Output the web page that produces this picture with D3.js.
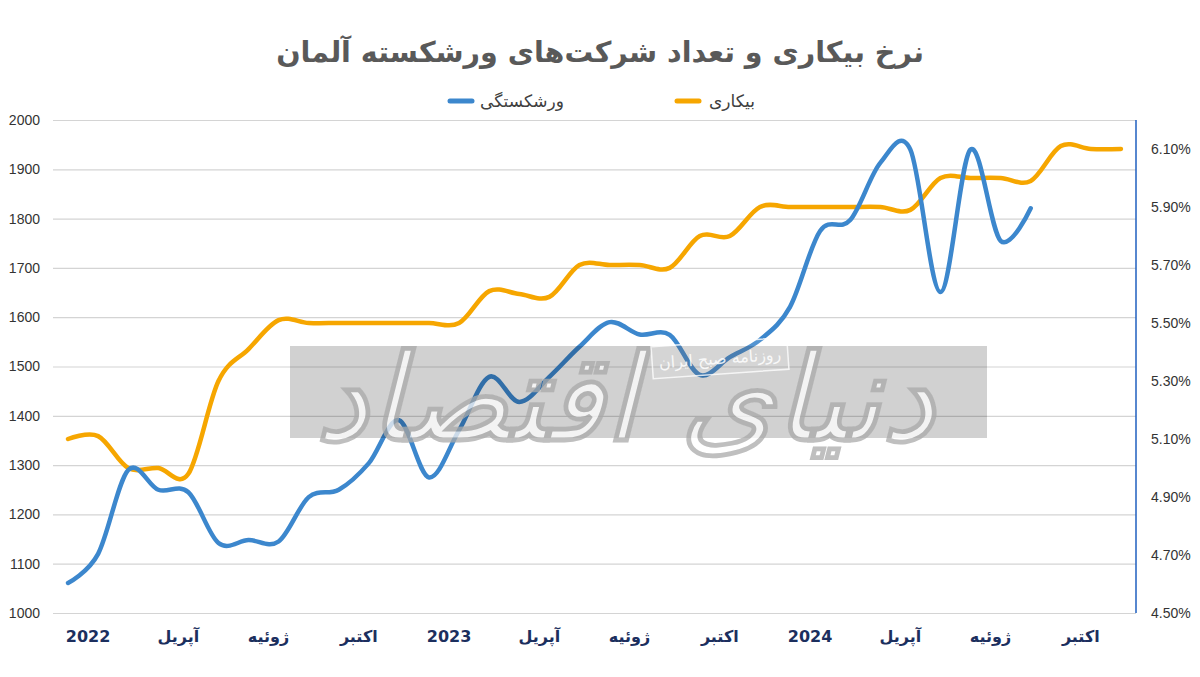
<!DOCTYPE html>
<html><head><meta charset="utf-8">
<script src="https://cdn.jsdelivr.net/npm/d3@7"></script>
<style>body{margin:0;background:#fff}</style>
</head><body>
<svg id="chart" width="1200" height="677"></svg>
<script>
const months = ["2022-01","2022-02","2022-03","2022-04","2022-05","2022-06","2022-07","2022-08","2022-09","2022-10","2022-11","2022-12",
"2023-01","2023-02","2023-03","2023-04","2023-05","2023-06","2023-07","2023-08","2023-09","2023-10","2023-11","2023-12",
"2024-01","2024-02","2024-03","2024-04","2024-05","2024-06","2024-07","2024-08","2024-09","2024-10","2024-11","2024-12"];
const tickMonths = ["2022-01","2022-04","2022-07","2022-10","2023-01","2023-04","2023-07","2023-10","2024-01","2024-04","2024-07","2024-10"];
const tickLabels = ["2022","آپریل","ژوئیه","اکتبر","2023","آپریل","ژوئیه","اکتبر","2024","آپریل","ژوئیه","اکتبر"];
// Bankruptcies (left axis), Jan 2022 – Sep 2024
const bankruptcies = [1061,1120,1290,1250,1245,1142,1148,1145,1235,1250,1304,1391,1275,1371,1479,1428,1479,1540,1590,1565,1564,1483,1519,1554,1621,1775,1797,1913,1940,1651,1940,1755,1821];
// Unemployment rate % (right axis), Jan 2022 – Dec 2024
const unemployment = [5.10,5.11,5.00,5.00,4.98,5.30,5.41,5.51,5.50,5.50,5.50,5.50,5.50,5.50,5.61,5.60,5.59,5.70,5.70,5.70,5.69,5.80,5.80,5.90,5.90,5.90,5.90,5.90,5.89,6.00,6.00,6.00,5.99,6.11,6.10,6.10];
const leftTicks = [1000,1100,1200,1300,1400,1500,1600,1700,1800,1900,2000];
const rightTicks = [4.5,4.7,4.9,5.1,5.3,5.5,5.7,5.9,6.1];
const title = "نرخ بیکاری و تعداد شرکت‌های ورشکسته آلمان";
const seriesNames = ["ورشکستگی","بیکاری"];

const svg = d3.select("#chart");
svg.append("rect").attr("width",1200).attr("height",677).attr("fill","#fff");

const L = 53, R = 1136;
const x = d3.scaleBand().domain(months).range([L,R]).padding(0);
const cx = m => x(m) + x.bandwidth()/2;
const yL = d3.scaleLinear().domain([1000,2000]).range([613,120]);
const yR = d3.scaleLinear().domain([4.5,6.1]).range([613,149]);

// Title
const t = svg.append("text").attr("x",600).attr("y",62).attr("text-anchor","middle")
  .attr("font-family","DejaVu Sans, Noto Sans, sans-serif").attr("font-weight","bold")
  .attr("font-size",32).attr("fill","#595959").text(title);
const tw = t.node().getComputedTextLength();
t.attr("font-size", 32*648/tw);

// Legend
const leg = [{name:seriesNames[0],color:"#3c87cd",sx:448,tx:522},{name:seriesNames[1],color:"#f6a600",sx:675,tx:732}];
leg.forEach(d=>{
  svg.append("line").attr("x1",d.sx+2).attr("x2",d.sx+24).attr("y1",101).attr("y2",101)
    .attr("stroke",d.color).attr("stroke-width",5).attr("stroke-linecap","round");
  svg.append("text").attr("x",d.tx).attr("y",107).attr("text-anchor","middle")
    .attr("font-family","DejaVu Sans, sans-serif").attr("font-size",17).attr("fill","#404040").text(d.name);
});

// Left axis with gridlines
const gL = svg.append("g").attr("transform",`translate(${L},0)`)
  .call(d3.axisLeft(yL).tickValues(leftTicks).tickSize(-(R-L)).tickPadding(13).tickFormat(d3.format("d")));
gL.select(".domain").remove();
gL.selectAll(".tick line").attr("stroke","#d4d4d4").attr("stroke-width",1.2);
gL.selectAll(".tick text").attr("font-family","Liberation Sans, Arial, sans-serif").attr("font-size",14).attr("fill","#333");

// Right axis
const gR = svg.append("g").attr("transform",`translate(${R},0)`)
  .call(d3.axisRight(yR).tickValues(rightTicks).tickSize(0).tickPadding(15).tickFormat(d=>d.toFixed(2)+"%"));
gR.select(".domain").remove();
gR.selectAll(".tick text").attr("font-family","Liberation Sans, Arial, sans-serif").attr("font-size",14).attr("fill","#333");
svg.append("line").attr("x1",R).attr("x2",R).attr("y1",yL(2000)).attr("y2",yL(1000))
  .attr("stroke","#1f5fbf").attr("stroke-width",1.5);

// Bottom axis
const gB = svg.append("g").attr("transform","translate(0,613)")
  .call(d3.axisBottom(x).tickValues(tickMonths).tickSize(0).tickFormat((d,i)=>tickLabels[i]));
gB.select(".domain").remove();
gB.selectAll(".tick text").attr("x",20).attr("y",18)
  .attr("font-family","DejaVu Sans, sans-serif").attr("font-weight","bold").attr("font-size",16).attr("fill","#1c2f5e");

// Lines
const curve = d3.curveCardinal.tension(0);
svg.append("path").datum(unemployment)
  .attr("d", d3.line().x((d,i)=>cx(months[i])).y(d=>yR(d)).curve(curve))
  .attr("fill","none").attr("stroke","#f6a600").attr("stroke-width",4.5).attr("stroke-linecap","round");
svg.append("path").datum(bankruptcies)
  .attr("d", d3.line().x((d,i)=>cx(months[i])).y(d=>yL(d)).curve(curve))
  .attr("fill","none").attr("stroke","#3c87cd").attr("stroke-width",4.5).attr("stroke-linecap","round");

// Watermark
const wm = svg.append("g");
wm.append("rect").attr("x",290).attr("y",346).attr("width",697).attr("height",92).attr("fill","#000").attr("opacity",0.18);
const wt = wm.append("text").attr("x",625).attr("y",440).attr("text-anchor","middle")
  .attr("font-family","DejaVu Sans, sans-serif").attr("font-weight","bold").attr("font-style","italic")
  .attr("font-size",110).attr("fill","#fff").attr("opacity",0.75).attr("stroke","#aaa").attr("stroke-width",1)
  .text("دنیای اقتصاد");
const ww = wt.node().getComputedTextLength();
wt.attr("font-size", 110*620/ww);
const sb = wm.append("g").attr("transform","translate(720,358) rotate(-4)");
sb.append("rect").attr("x",-68).attr("y",-16).attr("width",136).attr("height",32)
  .attr("fill","#fff").attr("fill-opacity",0.15).attr("stroke","#fff").attr("stroke-width",1.5).attr("opacity",0.8);
sb.append("text").attr("x",0).attr("y",6).attr("text-anchor","middle").attr("font-family","DejaVu Sans, sans-serif")
  .attr("font-size",16).attr("fill","#fff").attr("opacity",0.85).text("روزنامه صبح ایران");
</script>
</body></html>
